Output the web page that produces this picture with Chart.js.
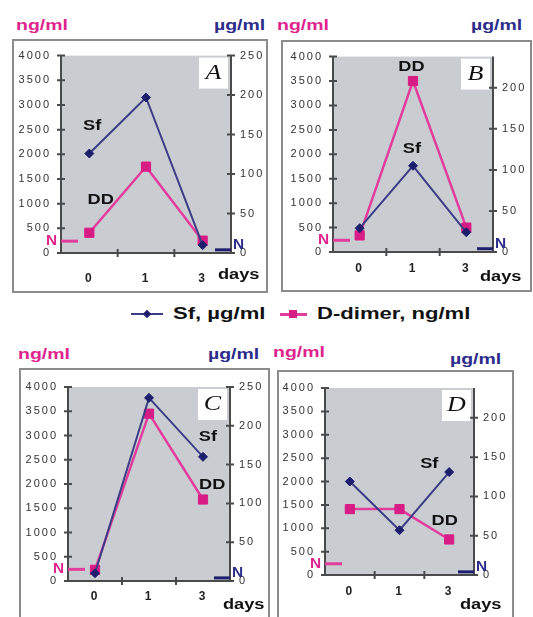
<!DOCTYPE html>
<html><head><meta charset="utf-8">
<script src="https://cdn.jsdelivr.net/npm/chart.js@4/dist/chart.umd.min.js"></script>
<style>
html,body{margin:0;padding:0;background:#fff;}
#root{position:relative;width:533px;height:617px;overflow:hidden;background:#fff;font-family:"Liberation Sans",Arial,sans-serif;}
.box{position:absolute;box-sizing:border-box;border:2px solid #8c8c8c;}
canvas{position:absolute;}
.unit{position:absolute;font-weight:bold;font-size:14px;line-height:14px;white-space:nowrap;transform-origin:0 0;transform:scaleX(1.39);}
.pink{color:#e0248e;}
.navy{color:#2c2c8a;}
.leg{position:absolute;font-weight:bold;font-size:16px;line-height:16px;white-space:nowrap;transform-origin:0 50%;transform:scaleX(1.38);color:#111;}
.mk{position:absolute;}
</style></head>
<body>
<div id="root">
  <div class="unit pink" style="left:16px;top:18px">ng/ml</div>
  <div class="unit navy" style="left:214px;top:18px">µg/ml</div>
  <div class="unit pink" style="left:277px;top:18px">ng/ml</div>
  <div class="unit navy" style="left:471px;top:18px">µg/ml</div>
  <div class="unit pink" style="left:18px;top:347px">ng/ml</div>
  <div class="unit navy" style="left:208px;top:347px">µg/ml</div>
  <div class="unit pink" style="left:273px;top:345px">ng/ml</div>
  <div class="unit navy" style="left:450px;top:352px">µg/ml</div>

  <div class="mk" style="left:131px;top:313px;width:32px;height:2px;background:#3d3d85"></div>
  <div class="mk" style="left:144px;top:311px;width:6px;height:6px;background:#1e1e6e;transform:rotate(45deg)"></div>
  <div class="leg" style="left:173px;top:306px">Sf, µg/ml</div>
  <div class="mk" style="left:280px;top:313px;width:27px;height:3px;background:#e23d9c"></div>
  <div class="mk" style="left:289px;top:310px;width:8px;height:8px;background:#d81c85"></div>
  <div class="leg" style="left:317px;top:306px">D-dimer, ng/ml</div>
</div>
<script>
// ---- data ----
const DAYS = ['0', '1', '3'];
const SF_A = [126, 197, 10];
const DD_A = [410, 1750, 250];
const SF_B = [29, 105, 24];
const DD_B = [340, 3500, 500];
const SF_C = [10, 236, 160];
const DD_C = [230, 3450, 1680];
const SF_D = [119, 57, 131];
const DD_D = [1410, 1410, 760];
const DD_MAX = 4000, DD_STEP = 500;
const SF_STEP = 50;
const SF_MAX = { A: 250, B: 238, C: 250, D: 238 };
const NORM_DD = 240;   // normal D-dimer level, ng/ml
const NORM_SF = 4;     // normal Sf level, µg/ml

// ---- styles ----
const PLOT_BG = '#c9cdd2';
const AXIS = '#4a4a4a';
const NAVY_LINE = '#3d3d85', NAVY_PT = '#1e1e6e', NAVY_TXT = '#2c2c8a';
const PINK_LINE = '#e23d9c', PINK_PT = '#d81c85', PINK_TXT = '#e0248e';
const FONT = '"Liberation Sans", Arial, sans-serif';

// ---- panel layout (page px) ----
const PANELS = [
  { id: 'A', sf: SF_A, dd: DD_A, box: [12, 39, 256, 254], plot: [61, 54, 231, 253], xPad: 18, days: [-13, 22],
    notes: [['Sf', 0.05, 2570], ['DD', 0.2, 1065]] },
  { id: 'B', sf: SF_B, dd: DD_B, box: [281, 40, 251, 252], plot: [333, 54, 493, 252], xPad: 9, days: [-13, 25],
    notes: [['DD', 0.97, 3780], ['Sf', 0.98, 2100]] },
  { id: 'C', sf: SF_C, dd: DD_C, box: [19, 368, 251, 260], plot: [68, 387, 230, 581], xPad: 8, days: [-7, 24],
    notes: [['Sf', 2.09, 2970], ['DD', 2.17, 1980]] },
  { id: 'D', sf: SF_D, dd: DD_D, box: [277, 370, 237, 260], plot: [325, 388, 474, 575], xPad: 9, days: [-14, 30],
    notes: [['Sf', 1.6, 2370], ['DD', 1.91, 1155]] }
];

function stretchText(ctx, text, x, y, align, k, font, color, baseline) {
  ctx.save();
  ctx.letterSpacing = '0px';
  ctx.font = font; ctx.fillStyle = color;
  ctx.textBaseline = baseline || 'middle'; ctx.textAlign = 'left';
  const w = ctx.measureText(text).width * k;
  let x0 = x;
  if (align === 'center') x0 = x - w / 2; else if (align === 'right') x0 = x - w;
  ctx.translate(x0, y); ctx.scale(k, 1);
  ctx.fillText(text, 0, 0);
  ctx.restore();
}

const panelPlugin = {
  id: 'panel',
  beforeDraw(chart) {
    const { ctx, chartArea: a } = chart;
    ctx.save();
    ctx.fillStyle = PLOT_BG;
    ctx.fillRect(a.left, a.top, a.right - a.left, a.bottom - a.top);
    ctx.restore();
    ctx.letterSpacing = '2px';
  },
  beforeDatasetsDraw(chart, args, P) {
    const { ctx, chartArea: a, scales } = chart;
    const x = scales.x, yl = scales.y, yr = scales.y1;
    ctx.save();
    ctx.letterSpacing = '0px';
    // letter box
    ctx.fillStyle = '#fff';
    ctx.fillRect(a.right - 32, a.top + 2, 29, 31);
    stretchText(ctx, P.id, a.right - 17.5, a.top + 18, 'center', 1.3, 'italic 20px "Liberation Serif", serif', '#111');
    // axes + cross ticks
    ctx.strokeStyle = AXIS; ctx.lineWidth = 2;
    ctx.beginPath();
    ctx.moveTo(a.left, a.top); ctx.lineTo(a.left, a.bottom + 1);
    ctx.moveTo(a.right, a.top); ctx.lineTo(a.right, a.bottom + 1);
    ctx.moveTo(a.left, a.bottom); ctx.lineTo(a.right, a.bottom);
    yl.ticks.forEach(t => { const p = yl.getPixelForValue(t.value); ctx.moveTo(a.left - 4, p); ctx.lineTo(a.left + 4, p); });
    yr.ticks.forEach(t => { const p = yr.getPixelForValue(t.value); ctx.moveTo(a.right - 4, p); ctx.lineTo(a.right + 4, p); });
    for (let i = 0; i < DAYS.length - 1; i++) {
      const p = x.getPixelForValue(i + 0.5);
      ctx.moveTo(p, a.bottom - 4); ctx.lineTo(p, a.bottom + 4);
    }
    ctx.stroke();
    // normal-level segments
    ctx.lineWidth = 3;
    ctx.strokeStyle = PINK_LINE;
    let yy = yl.getPixelForValue(NORM_DD);
    ctx.beginPath(); ctx.moveTo(a.left, yy); ctx.lineTo(a.left + 17, yy); ctx.stroke();
    ctx.strokeStyle = NAVY_PT;
    yy = yr.getPixelForValue(NORM_SF);
    ctx.beginPath(); ctx.moveTo(a.right - 16, yy); ctx.lineTo(a.right, yy); ctx.stroke();
    ctx.restore();
  },
  afterDatasetsDraw(chart, args, P) {
    const { ctx, chartArea: a, scales } = chart;
    const x = scales.x, yl = scales.y, yr = scales.y1;
    ctx.letterSpacing = '0px';
    stretchText(ctx, 'N', a.left - 4, yl.getPixelForValue(NORM_DD), 'right', 1.1, 'bold 14px ' + FONT, PINK_TXT);
    stretchText(ctx, 'N', a.right + 2, yr.getPixelForValue(NORM_SF) - 1, 'left', 1.1, 'bold 14px ' + FONT, NAVY_TXT, 'alphabetic');
    P.notes.forEach(([t, cx, v]) => {
      stretchText(ctx, t, x.getPixelForValue(cx), yl.getPixelForValue(v), 'center', 1.3, 'bold 14px ' + FONT, '#111');
    });
    stretchText(ctx, 'days', a.right + P.days[0], a.bottom + P.days[1], 'left', 1.3, 'bold 14px ' + FONT, '#111');
  }
};

Chart.defaults.font.family = FONT;
const root = document.getElementById('root');
const plain = v => String(v);

PANELS.forEach(P => {
  const [bx, by, bw, bh] = P.box;
  const [L, T, R, B] = P.plot;
  const ch = Math.min(bh, 617 - by);
  const box = document.createElement('div');
  box.className = 'box';
  box.style.cssText = `left:${bx}px;top:${by}px;width:${bw}px;height:${bh}px`;
  root.appendChild(box);
  const cv = document.createElement('canvas');
  cv.width = bw; cv.height = ch;
  cv.style.cssText = `left:${bx}px;top:${by}px;width:${bw}px;height:${ch}px`;
  root.appendChild(cv);

  const leftW = L - bx, rightW = bx + bw - R, topP = T - by, botH = by + ch - B;
  const sfMax = SF_MAX[P.id];

  new Chart(cv, {
    type: 'line',
    data: {
      labels: DAYS,
      datasets: [
        { label: 'Sf, µg/ml', data: P.sf, yAxisID: 'y1', borderColor: NAVY_LINE, borderWidth: 2,
          pointStyle: 'rectRot', pointRadius: 4.5, pointBackgroundColor: NAVY_PT, pointBorderColor: NAVY_PT,
          pointBorderWidth: 1, tension: 0 },
        { label: 'D-dimer, ng/ml', data: P.dd, yAxisID: 'y', borderColor: PINK_LINE, borderWidth: 2.5,
          pointStyle: 'rect', pointRadius: 6.5, pointBackgroundColor: PINK_PT, pointBorderColor: PINK_PT,
          pointBorderWidth: 1, tension: 0 }
      ]
    },
    options: {
      responsive: false, animation: false, devicePixelRatio: 1, events: [],
      layout: { padding: { top: topP, left: 0, right: 0, bottom: 0 } },
      plugins: { legend: { display: false }, tooltip: { enabled: false }, panel: P },
      scales: {
        x: {
          type: 'category', offset: true,
          grid: { display: false, drawTicks: false }, border: { display: false },
          ticks: { color: '#222', font: { size: 12, weight: 'bold' }, padding: P.xPad, maxRotation: 0, autoSkip: false },
          afterFit: s => { s.height = botH; }
        },
        y: {
          position: 'left', min: 0, max: DD_MAX,
          grid: { display: false, drawTicks: false }, border: { display: false },
          ticks: { stepSize: DD_STEP, color: '#333', font: { size: 11 }, padding: 10, callback: plain },
          afterFit: s => { s.width = leftW; }
        },
        y1: {
          position: 'right', min: 0, max: sfMax,
          grid: { display: false, drawTicks: false }, border: { display: false },
          ticks: { stepSize: SF_STEP, color: '#333', font: { size: 11 }, padding: 9, callback: plain },
          afterBuildTicks: s => { s.ticks = s.ticks.filter(t => t.value % SF_STEP === 0); },
          afterFit: s => { s.width = rightW; }
        }
      }
    },
    plugins: [panelPlugin]
  });
});
</script>
</body></html>
